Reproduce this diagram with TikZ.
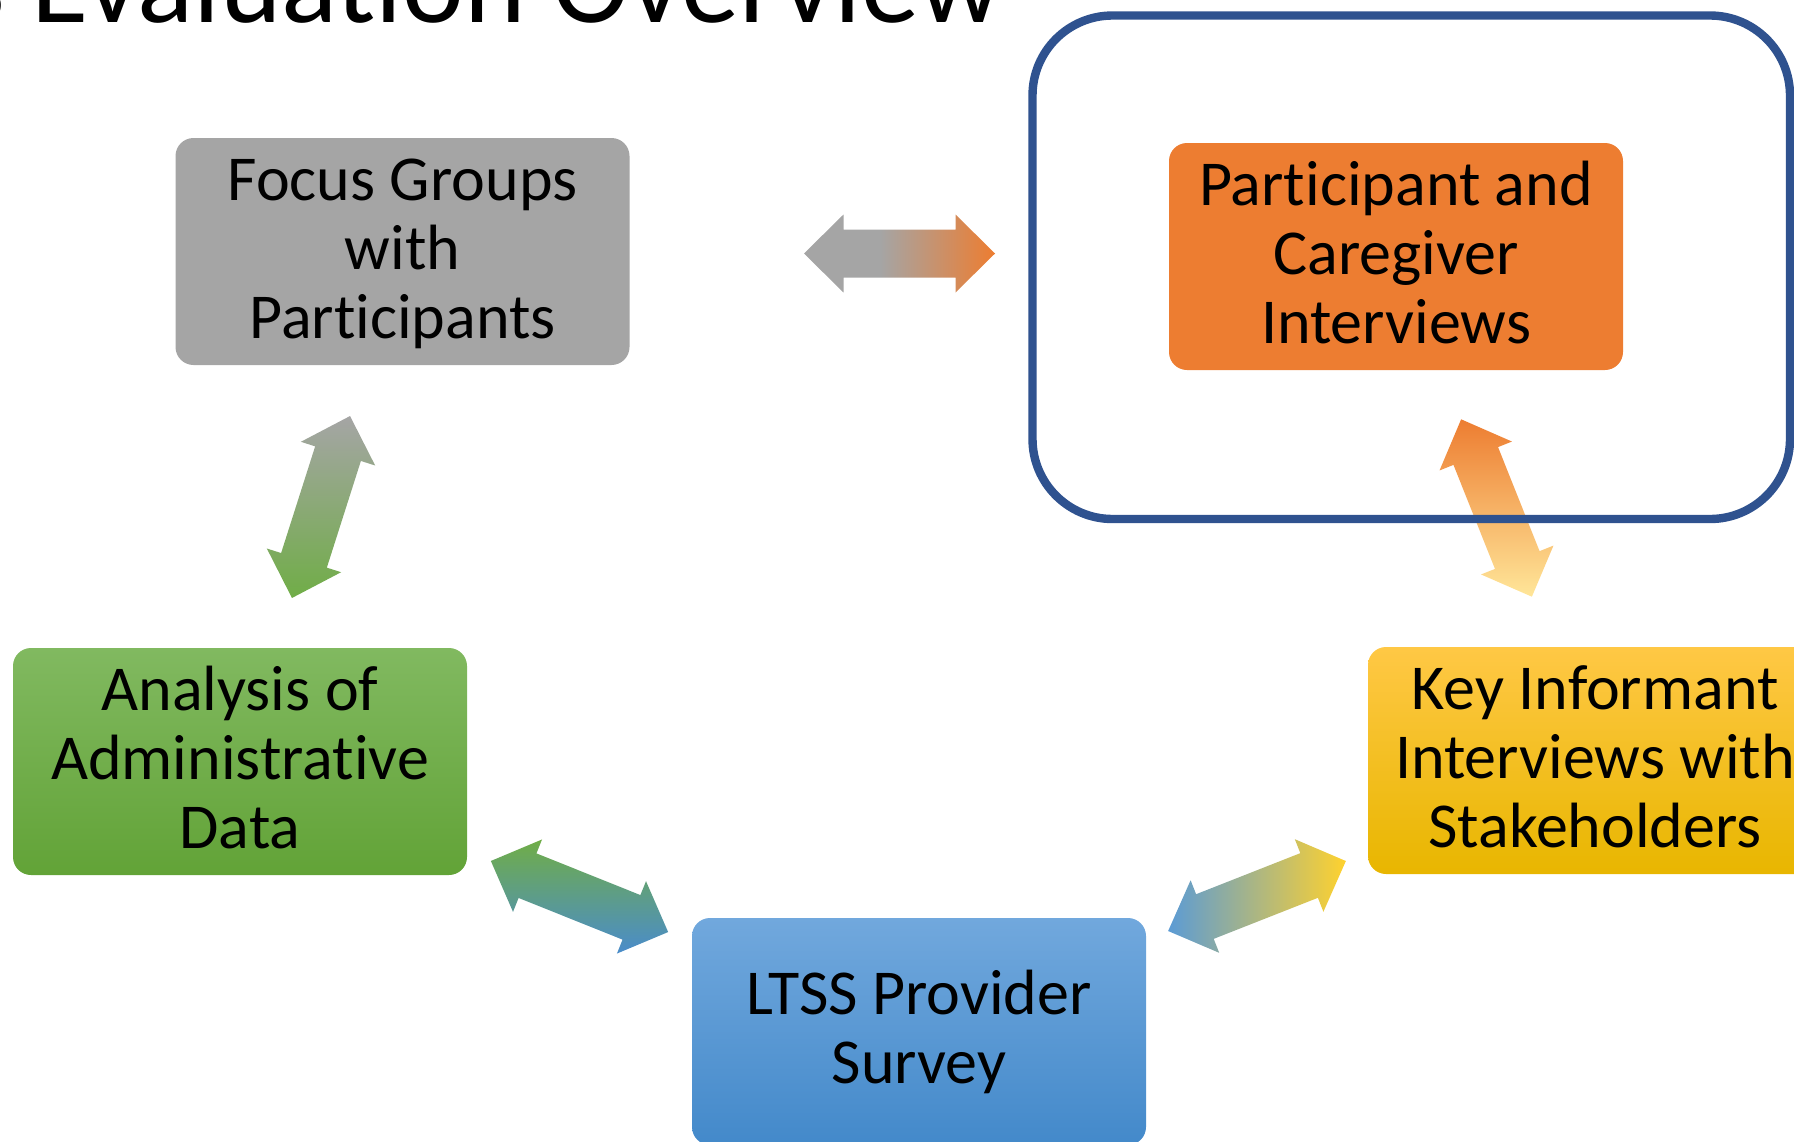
\documentclass[tikz,border=0pt]{standalone}
\usepackage{fontspec}
\setmainfont{Carlito}[Ligatures={NoCommon,NoRare}]
\definecolor{fggray}{HTML}{A5A5A5}
\definecolor{pcorange}{HTML}{ED7D31}
\definecolor{admintop}{HTML}{81B960}
\definecolor{adminbot}{HTML}{62A337}
\definecolor{ltsstop}{HTML}{71A8DD}
\definecolor{ltssbot}{HTML}{4389CA}
\definecolor{kiitop}{HTML}{FFC845}
\definecolor{kiibot}{HTML}{E8B600}
\definecolor{argreen}{HTML}{70AD47}
\definecolor{arblue}{HTML}{4A8CCB}
\definecolor{arleft}{HTML}{5B9BD5}
\definecolor{aryellow}{HTML}{FFD22E}
\definecolor{paleyellow}{HTML}{FFE699}
\definecolor{frameblue}{HTML}{2F528F}
\pgfdeclarehorizontalshading{grayorange}{100bp}{color(0bp)=(fggray); color(45bp)=(fggray); color(75bp)=(pcorange); color(100bp)=(pcorange)}
\newcommand\boxstrut{\rule[-8.5pt]{0pt}{34.5pt}}
\newcommand\twoway[4]{%
  \begin{scope}[shift={#2},rotate=#3]
    \coordinate (#1-a) at (95.5,0);
    \coordinate (#1-b) at (56,39);
    \coordinate (#1-c) at (56,24);
    \coordinate (#1-d) at (-56,24);
    \coordinate (#1-e) at (-56,39);
    \coordinate (#1-f) at (-95.5,0);
    \coordinate (#1-g) at (-56,-39);
    \coordinate (#1-h) at (-56,-24);
    \coordinate (#1-i) at (56,-24);
    \coordinate (#1-j) at (56,-39);
  \end{scope}
  \shade[#4] (#1-a) -- (#1-b) -- (#1-c) -- (#1-d) -- (#1-e) -- (#1-f)
    -- (#1-g) -- (#1-h) -- (#1-i) -- (#1-j) -- cycle;}
\begin{document}
\begin{tikzpicture}[x=0.5pt,y=-0.5pt,
    stage/.style={rounded corners=9pt,minimum width=227pt,minimum height=113.5pt,
      inner sep=0pt,align=center,font=\fontsize{32pt}{34.5pt}\selectfont}]
  \useasboundingbox (0,0) rectangle (1794,1141);
  \node[anchor=base east,inner sep=0pt,font=\fontsize{58.5pt}{60pt}\selectfont] (title)
    at (1003,22) {s Evaluation Overview};
  \node[stage,fill=fggray] (focus) at (402.5,251.5)
    {\boxstrut Focus Groups\\\boxstrut with\\\boxstrut Participants};
  \node[stage,fill=pcorange] (pcint) at (1396,256.5)
    {\boxstrut Participant and\\\boxstrut Caregiver\\\boxstrut Interviews};
  \node[stage,top color=admintop,bottom color=adminbot] (admin) at (240,761.5)
    {\boxstrut Analysis of\\\boxstrut Administrative\\\boxstrut Data};
  \node[stage,top color=ltsstop,bottom color=ltssbot] (ltss) at (919,1031.5)
    {\boxstrut LTSS Provider\\\boxstrut Survey};
  \node[stage,top color=kiitop,bottom color=kiibot] (kii) at (1595,760.5)
    {\boxstrut Key Informant\\\boxstrut Interviews with\\\boxstrut Stakeholders};
  \twoway{fp}{(899.5,253.5)}{0}{shading=grayorange}
  \twoway{fa}{(321,507)}{72.3}{top color=fggray,bottom color=argreen}
  \twoway{pk}{(1496.5,508)}{111.75}{top color=pcorange,bottom color=paleyellow}
  \twoway{al}{(579.5,896.5)}{-21.85}{top color=argreen,bottom color=arblue}
  \twoway{lk}{(1257,896)}{21.5}{left color=arleft,right color=aryellow}
  \draw[line width=4.2pt,draw=frameblue,rounded corners=40pt] (1032.5,15.5) rectangle (1790,519);
\end{tikzpicture}
\end{document}
